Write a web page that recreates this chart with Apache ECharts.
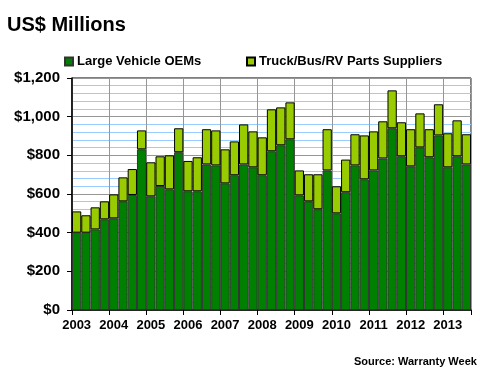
<!DOCTYPE html>
<html>
<head>
<meta charset="utf-8">
<script src="https://cdn.jsdelivr.net/npm/echarts@6/dist/echarts.min.js"></script>
<style>html,body{margin:0;padding:0;background:#fff}#c{width:480px;height:380px}</style>
</head>
<body>
<div id="c"></div>
<script>
var years = ['2003','2004','2005','2006','2007','2008','2009','2010','2011','2012','2013'];
var quartersLast = 3;
var oem = [400,400,417,469, 474,562,595,831, 588,641,624,816, 614,614,753,748, 655,697,753,738, 697,821,852,883, 593,562,521,722, 500,609,748,676, 722,784,940,795, 743,841,790,903, 738,795,753];
var suppliers = [110,90,114,93, 124,124,134,98, 176,154,176,124, 157,176,182,181, 176,175,207,186, 196,217,196,191, 129,140,181,213, 140,169,161,227, 202,192,196,176, 192,176,145,161, 176,186,156];
var yTicks = [0,200,400,600,800,1000,1200];

var categories = [];
years.forEach(function (y, i) {
  var n = (i === years.length - 1) ? quartersLast : 4;
  for (var q = 1; q <= n; q++) categories.push(y + ' Q' + q);
});

var FONT = 'Arial, "Liberation Sans", sans-serif';
var chart = echarts.init(document.getElementById('c'), null, {renderer: 'canvas'});
chart.setOption({
  backgroundColor: '#fff',
  animation: false,
  title: {
    text: 'US$ Millions', left: 7, top: 15, padding: 0,
    textStyle: {fontFamily: FONT, fontSize: 20, fontWeight: 'bold', color: '#000'}
  },
  legend: [
    {data: ['Large Vehicle OEMs'], left: 64, top: 55, padding: 0, icon: 'rect', itemWidth: 8, itemHeight: 8, itemGap: 4,
     textStyle: {fontFamily: FONT, fontSize: 13, fontWeight: 'bold', color: '#000', padding: [0,0,0,-1]}},
    {data: ['Truck/Bus/RV Parts Suppliers'], left: 246, top: 55, padding: 0, icon: 'rect', itemWidth: 8, itemHeight: 8, itemGap: 4,
     textStyle: {fontFamily: FONT, fontSize: 13, fontWeight: 'bold', color: '#000', padding: [0,0,0,-1]}}
  ],
  graphic: [{
    type: 'text', left: 354, top: 356,
    style: {text: 'Source: Warranty Week', fontFamily: FONT, fontSize: 11, fontWeight: 'bold', fill: '#000'}
  }],
  grid: {left: 72, right: 9, top: 78, bottom: 70, show: true, borderColor: '#000', borderWidth: 1, backgroundColor: 'transparent'},
  xAxis: {
    type: 'category', data: categories, boundaryGap: true,
    axisLine: {lineStyle: {color: '#000', width: 1.5}},
    axisTick: {show: true, interval: 3, length: 5, lineStyle: {color: '#000'}},
    axisLabel: {interval: 3, margin: 9, fontFamily: FONT, fontSize: 13, fontWeight: 'bold', color: '#000',
      formatter: function (v) { return v.slice(0, 4); }},
    splitLine: {show: true, interval: 3, lineStyle: {color: '#969696', width: 1}}
  },
  yAxis: {
    type: 'value', min: yTicks[0], max: yTicks[yTicks.length - 1], interval: 200,
    axisLine: {show: true, lineStyle: {color: '#000', width: 1.5}},
    axisTick: {show: true, length: 5, lineStyle: {color: '#000'}},
    axisLabel: {margin: 12, fontFamily: FONT, fontSize: 15, fontWeight: 'bold', color: '#000',
      formatter: function (v) { return '$' + v.toLocaleString('en-US'); }},
    splitLine: {show: true, lineStyle: {color: '#969696', width: 1}},
    minorTick: {show: false, splitNumber: 5},
    minorSplitLine: {show: true, lineStyle: {color: '#99CCFF', width: 1}}
  },
  series: [
    {name: 'Large Vehicle OEMs', type: 'bar', stack: 'a', data: oem, barCategoryGap: '0%',
     itemStyle: {color: '#008000', borderColor: '#333333', borderWidth: 1}},
    {name: 'Truck/Bus/RV Parts Suppliers', type: 'bar', stack: 'a', data: suppliers, barCategoryGap: '0%',
     itemStyle: {color: '#99CC00', borderColor: '#000', borderWidth: 1}}
  ]
});
</script>
</body>
</html>
